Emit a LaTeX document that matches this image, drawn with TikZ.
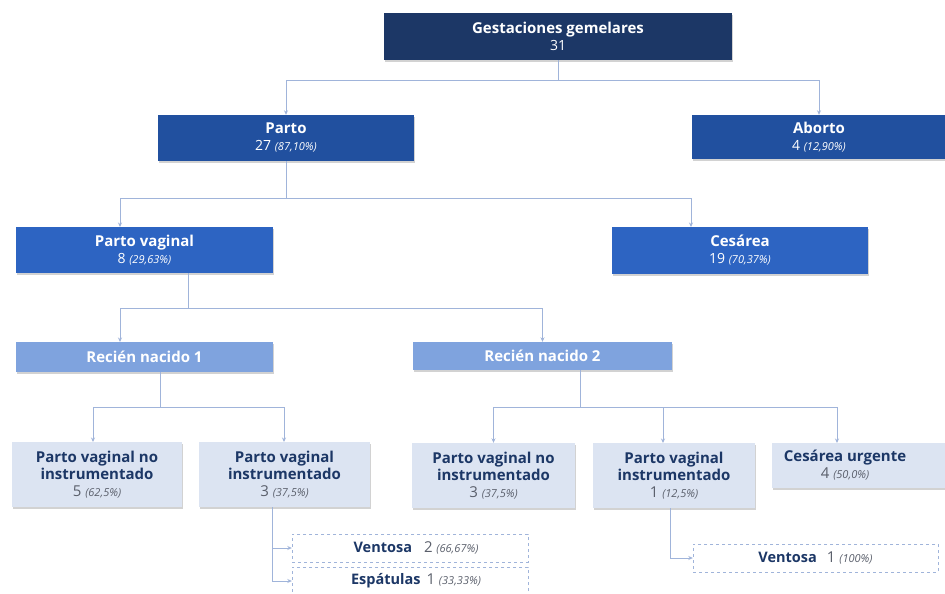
\documentclass[tikz,border=0pt]{standalone}
\usepackage{fontspec}
\setmainfont{Open Sans}
\usetikzlibrary{arrows.meta,shadows}

\definecolor{navy}{HTML}{1C3766}
\definecolor{blueA}{HTML}{21509F}
\definecolor{blueB}{HTML}{2D64C2}
\definecolor{blueC}{HTML}{7FA3DE}
\definecolor{paleC}{HTML}{DCE4F2}
\definecolor{linec}{HTML}{A0B4DA}
\definecolor{numgrey}{HTML}{5A5F6B}

\tikzset{
  box/.style={rectangle, inner sep=0pt, align=center,
    font=\fontsize{15}{17}\selectfont,
    drop shadow={opacity=0.35, shadow xshift=0.6pt, shadow yshift=-1.6pt}},
  lvA/.style={box, fill=navy, text=white},
  lvB/.style={box, fill=blueA, text=white},
  lvC/.style={box, fill=blueB, text=white},
  lvD/.style={box, fill=blueC, text=white},
  lvE/.style={box, fill=paleC, text=navy},
  boxtext/.style={inner sep=0pt, align=center, text=navy, font=\fontsize{15}{17}\selectfont},
  leaf/.style={rectangle, inner sep=0pt, draw=linec, dashed, fill=white, text=navy},
  conn/.style={draw=linec, line width=0.8pt, -{Stealth[length=4.5pt,width=4pt]}},
  plain/.style={draw=linec, line width=0.8pt},
}
% title line, white number line and grey number line
\newcommand{\ttl}[1]{{\fontsize{15}{17}\selectfont\bfseries #1}}
\newcommand{\ltl}[1]{{\fontsize{14.5}{17}\selectfont\bfseries #1}}
\newcommand{\wnum}[2]{{\fontsize{14}{17}\selectfont #1 {\fontsize{11}{17}\selectfont\itshape #2}}}
\newcommand{\gnum}[2]{{\color{numgrey}\fontsize{15}{17}\selectfont #1 {\fontsize{11}{17}\selectfont\itshape #2}}}

\begin{document}
\begin{tikzpicture}[x=1pt,y=-1pt]
\useasboundingbox (0,0) rectangle (945,594);
\fill[white] (0,0) rectangle (945,594);

% level 1
\node[lvA, minimum width=348pt, minimum height=47pt] (top) at (558,36.5)
  {\ttl{Gestaciones gemelares}\\{\fontsize{14}{17}\selectfont 31}};
% level 2
\node[lvB, minimum width=256pt, minimum height=46pt] (parto) at (286,138)
  {\ttl{Parto}\\\wnum{27}{(87,10\%)}};
\node[lvB, minimum width=254pt, minimum height=44pt] (aborto) at (819,137)
  {\ttl{Aborto}\\\wnum{4}{(12,90\%)}};
% level 3
\node[lvC, minimum width=257pt, minimum height=46pt] (pvag) at (144.5,250)
  {\ttl{Parto vaginal}\\\wnum{8}{(29,63\%)}};
\node[lvC, minimum width=256pt, minimum height=47pt] (ces) at (740,250.5)
  {\ttl{Cesárea}\\\wnum{19}{(70,37\%)}};
% newborns
\node[lvD, minimum width=257pt, minimum height=30pt] (rn1) at (144.5,357)
  {\ttl{Recién nacido 1}};
\node[lvD, minimum width=259pt, minimum height=28pt] (rn2) at (542.5,356)
  {\ttl{Recién nacido 2}};
% delivery outcomes
\node[lvE, minimum width=170pt, minimum height=65pt] (b1) at (97,474.5)
  {\ttl{Parto vaginal no}\\\ttl{instrumentado}\\\gnum{5}{(62,5\%)}};
\node[lvE, minimum width=171pt, minimum height=65pt] (b2) at (284.5,474.5)
  {\ttl{Parto vaginal}\\\ttl{instrumentado}\\\gnum{3}{(37,5\%)}};
\node[lvE, minimum width=163pt, minimum height=65pt] (b3) at (493.5,475.5)
  {\ttl{Parto vaginal no}\\\ttl{instrumentado}\\\gnum{3}{(37,5\%)}};
\node[lvE, minimum width=162pt, minimum height=65pt] (b4) at (674,475.5)
  {\ttl{Parto vaginal}\\\ttl{instrumentado}\\\gnum{1}{(12,5\%)}};
\node[lvE, minimum width=173pt, minimum height=45pt] (b5) at (858.5,465.5) {};
\node[boxtext] (b5t) at (845,465.5) {\ttl{Cesárea urgente}\\\gnum{4}{(50,0\%)}};
% instruments
\node[leaf, minimum width=236pt, minimum height=28pt] (v1) at (410,548)
  {\hspace{12pt}\ltl{Ventosa}\hspace{12pt}\gnum{2}{(66,67\%)}};
\node[leaf, minimum width=236pt, minimum height=28pt] (esp) at (410,581)
  {\hspace{12pt}\ltl{Espátulas}\hspace{6pt}\gnum{1}{(33,33\%)}};
\node[leaf, minimum width=245pt, minimum height=28pt] (v2) at (815.5,558)
  {\ltl{Ventosa}\hspace{10pt}\gnum{1}{(100\%)}};

% junction points and off-centre ports
\coordinate (j1) at (0,80);
\coordinate (j2) at (0,198);
\coordinate (j3) at (0,308);
\coordinate (j4) at (0,407);
\coordinate (pvagout) at (188,273);
\coordinate (rn1out) at (160,372);
\coordinate (rn2out) at (580,370);
\coordinate (b2out) at (272,507);
\coordinate (b4out) at (670,508);
\coordinate (pvagin) at (120,227);
\coordinate (cesin) at (691,227);
\coordinate (rn1in) at (120,342);
\coordinate (b1in) at (93,442);
\coordinate (b2in) at (284,442);
\coordinate (b4in) at (663,443);
\coordinate (b5in) at (837,443);

% connectors
\draw[plain] (top.south) -- (top.south |- j1);
\draw[conn] (top.south |- j1) -| (parto.north);
\draw[conn] (top.south |- j1) -| (aborto.north);

\draw[plain] (parto.south) -- (parto.south |- j2);
\draw[conn] (parto.south |- j2) -| (pvagin);
\draw[conn] (parto.south |- j2) -| (cesin);

\draw[plain] (pvagout) -- (pvagout |- j3);
\draw[conn] (pvagout |- j3) -| (rn1in);
\draw[conn] (pvagout |- j3) -| (rn2.north);

\draw[plain] (rn1out) -- (rn1out |- j4);
\draw[conn] (rn1out |- j4) -| (b1in);
\draw[conn] (rn1out |- j4) -| (b2in);

\draw[plain] (rn2out) -- (rn2out |- j4);
\draw[conn] (rn2out |- j4) -| (b3.north);
\draw[conn] (rn2out |- j4) -| (b4in);
\draw[conn] (rn2out |- j4) -| (b5in);

\draw[conn] (b2out) |- (v1.west);
\draw[conn] (b2out) |- (esp.west);
\draw[conn] (b4out) |- (v2.west);
\end{tikzpicture}
\end{document}
